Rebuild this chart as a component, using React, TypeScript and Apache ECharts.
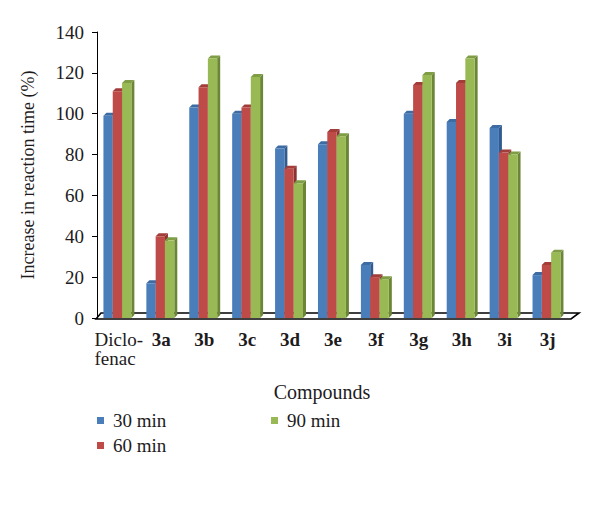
import React, { useEffect, useRef } from "react";
import * as echarts from "echarts";

const categories = ["Diclo-\nfenac", "3a", "3b", "3c", "3d", "3e", "3f", "3g", "3h", "3i", "3j"];
const min30 = [99, 17, 103, 100, 83, 85, 26, 100, 96, 93, 21];
const min60 = [111, 40, 113, 103, 73, 91, 20, 114, 115, 81, 26];
const min90 = [115, 38, 127, 118, 66, 89, 19, 119, 127, 80, 32];
const seriesNames = ["30 min", "60 min", "90 min"];
const yTicks = { min: 0, max: 140, interval: 20 };

const FONT = "'Liberation Serif', 'DejaVu Serif', serif";
const TEXT = "#1e1b1c";

const palette = [
  { front: "#4A7EBB", side: "#335C8E", top: "#3D6BA3" },
  { front: "#BE4B48", side: "#8A3331", top: "#A23D3A" },
  { front: "#98B954", side: "#6C8637", top: "#7F9D45" },
];

function makeBarRender(s: number) {
  return (params: any, api: any) => {
    const idx = api.value(0);
    const val = api.value(1);
    const p0 = api.coord([idx, 0]);
    const p1 = api.coord([idx, val]);
    const band = api.size([1, 0])[0];
    const w = band * 0.217;
    const d = 3;
    const x0 = p0[0] - band * 0.35 + s * w;
    const x1 = x0 + w;
    const y0 = p0[1];
    const y1 = p1[1];
    const c = palette[s];
    return {
      type: "group",
      children: [
        {
          type: "polygon",
          shape: { points: [[x1, y1], [x1 + d, y1 - d], [x1 + d, y0 - d], [x1, y0]] },
          style: { fill: c.side },
        },
        {
          type: "polygon",
          shape: { points: [[x0, y1], [x0 + d, y1 - d], [x1 + d, y1 - d], [x1, y1]] },
          style: { fill: c.top },
        },
        {
          type: "rect",
          shape: { x: x0, y: y1, width: w, height: y0 - y1 },
          style: { fill: c.front },
        },
      ],
    };
  };
}

function floorRender(params: any, api: any) {
  const band = api.size([1, 0])[0];
  const left = api.coord([0, 0]);
  const right = api.coord([categories.length - 1, 0]);
  const xl = left[0] - band / 2 - 1;
  const xr = right[0] + band / 2 + 2;
  const y = left[1] + 1;
  return {
    type: "polygon",
    shape: { points: [[xl, y], [xl + 5, y - 6], [xr + 8, y - 6], [xr, y]] },
    style: { fill: "none", stroke: "#000", lineWidth: 1.6 },
  };
}

export default function App() {
  const ref = useRef<HTMLDivElement>(null);
  useEffect(() => {
    if (!ref.current) return;
    const chart = echarts.init(ref.current, null, { renderer: "svg" });
    const dataSets = [min30, min60, min90];
    const legendText = { fontSize: 19, fontFamily: FONT, color: TEXT, padding: [0, 0, 0, 4] };
    chart.setOption({
      animation: false,
      backgroundColor: "#ffffff",
      grid: { left: 97, right: 31, top: 32, bottom: 210 },
      xAxis: {
        type: "category",
        data: categories,
        axisLine: { show: false },
        axisTick: { show: false },
        axisLabel: {
          interval: 0,
          margin: 12,
          fontSize: 19,
          fontWeight: "bold",
          lineHeight: 19,
          fontFamily: FONT,
          color: TEXT,
          formatter: (value: string) =>
            value.includes("\n")
              ? value
                  .split("\n")
                  .map((l) => `{d|${l}}`)
                  .join("\n")
              : value,
          rich: {
            d: {
              width: 48,
              align: "left",
              fontSize: 19,
              fontWeight: "normal",
              lineHeight: 19,
              fontFamily: FONT,
              color: TEXT,
            },
          },
        },
      },
      yAxis: {
        type: "value",
        min: yTicks.min,
        max: yTicks.max,
        interval: yTicks.interval,
        name: "Increase in reaction time (%)",
        nameLocation: "middle",
        nameGap: 60,
        nameTextStyle: { fontSize: 18, fontFamily: FONT, color: TEXT },
        axisLine: { show: true, lineStyle: { color: "#000", width: 1 } },
        axisTick: { show: true, length: 5, lineStyle: { color: "#000" } },
        axisLabel: { fontSize: 19, fontFamily: FONT, color: TEXT, margin: 13 },
        splitLine: { show: false },
      },
      legend: [
        {
          data: [seriesNames[0], seriesNames[1]],
          orient: "vertical",
          left: 97,
          top: 411,
          padding: 0,
          itemGap: 6,
          itemWidth: 7,
          itemHeight: 7,
          icon: "rect",
          textStyle: legendText,
        },
        {
          data: [seriesNames[2]],
          orient: "vertical",
          left: 271,
          top: 411,
          padding: 0,
          itemWidth: 7,
          itemHeight: 7,
          icon: "rect",
          textStyle: legendText,
        },
      ],
      graphic: [
        {
          type: "text",
          x: 322,
          y: 392,
          style: {
            text: "Compounds",
            fill: TEXT,
            font: `20px ${FONT}`,
            align: "center",
            verticalAlign: "middle",
          },
        },
      ],
      series: [
        {
          type: "custom",
          name: "floor",
          renderItem: floorRender,
          data: [[0, 0]],
          z: 1,
          silent: true,
        },
        ...dataSets.map((arr, s) => ({
          type: "custom",
          name: seriesNames[s],
          itemStyle: { color: palette[s].front },
          renderItem: makeBarRender(s),
          encode: { x: 0, y: 1 },
          data: arr.map((v, i) => [i, v]),
          z: 2,
        })),
      ],
    });
    return () => chart.dispose();
  }, []);
  return (
    <div
      ref={ref}
      style={{ position: "fixed", left: 0, top: 0, width: 600, height: 528, background: "#fff" }}
    />
  );
}
